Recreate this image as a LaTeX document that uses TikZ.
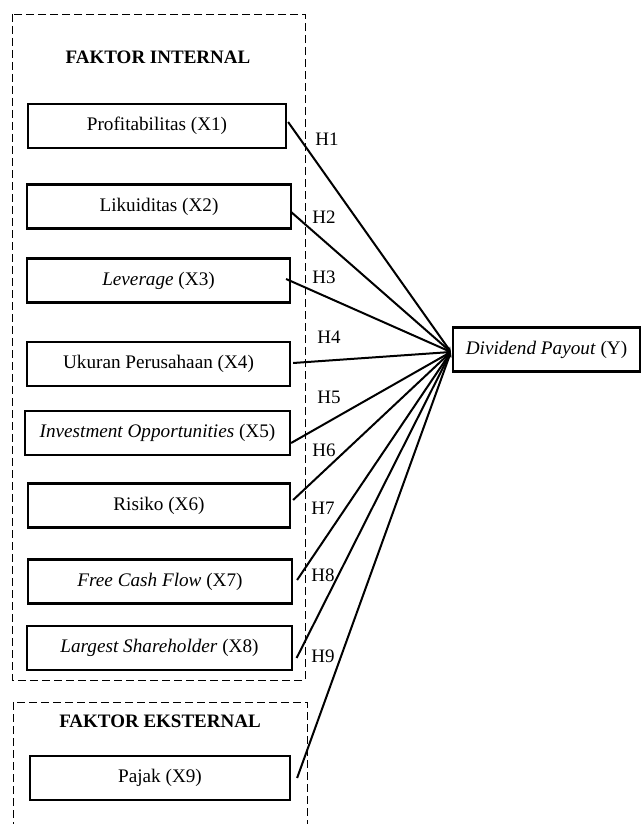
\documentclass[tikz,border=0pt]{standalone}
\usepackage{fontspec}
\setmainfont{Liberation Serif}
\usetikzlibrary{calc,arrows.meta}
\tikzset{
  varbox/.style={draw, line width=2.2pt, minimum height=44pt, inner sep=0pt,
                 font=\fontsize{19.2}{22}\selectfont},
  groupbox/.style={draw, line width=0.9pt, dash pattern=on 8pt off 4pt},
  grouptitle/.style={inner sep=0pt, font=\fontsize{19}{22}\selectfont\bfseries},
  link/.style={line width=2pt, -{Stealth[length=5pt,width=5pt]}},
  hyp/.style={inner sep=0pt, font=\fontsize{19}{22}\selectfont},
}
\begin{document}
\begin{tikzpicture}[x=1pt,y=-1pt]
\useasboundingbox (0,0) rectangle (643,824);

% group frames
\draw[groupbox] (12,14) rectangle (305,680);
\draw[groupbox] (13,830) |- (307,702) -- (307,830);
\node[grouptitle] (tin) at (158,57) {FAKTOR INTERNAL};
\node[grouptitle] (tex) at (160,721) {FAKTOR EKSTERNAL};

% independent variables
\node[varbox, minimum width=258pt] (x1) at (157,126)   {Profitabilitas (X1)};
\node[varbox, minimum width=264pt] (x2) at (159,206.5) {Likuiditas (X2)};
\node[varbox, minimum width=263pt] (x3) at (158.5,280.5) {\textit{Leverage} (X3)};
\node[varbox, minimum width=263pt] (x4) at (158.5,364) {Ukuran Perusahaan (X4)};
\node[varbox, minimum width=265pt] (x5) at (157.5,433) {\textit{Investment Opportunities} (X5)};
\node[varbox, minimum width=262pt] (x6) at (159,505.5) {Risiko (X6)};
\node[varbox, minimum width=264pt] (x7) at (160,581.5) {\textit{Free Cash Flow} (X7)};
\node[varbox, minimum width=265pt] (x8) at (159.5,648) {\textit{Largest Shareholder} (X8)};
\node[varbox, minimum width=260pt] (x9) at (160,778)   {Pajak (X9)};

% dependent variable
\node[varbox, minimum width=187pt] (y) at (546.5,349.5) {\textit{Dividend Payout} (Y)};
\coordinate (hub) at ($(y.west)+(-1,2.5)$);

% hypothesised effects
\draw[link] ($(x1.east)+(1,-4)$)  -- (hub);
\draw[link] ($(x2.east)+(-1,5.5)$) -- (hub);
\draw[link] ($(x3.east)+(-5,-1.5)$) -- (hub);
\draw[link] ($(x4.east)+(2,-1)$)  -- (hub);
\draw[link] ($(x5.east)+(0,10)$)  -- (hub);
\draw[link] ($(x6.east)+(2,-5.5)$) -- (hub);
\draw[link] ($(x7.east)+(4,-1.5)$) -- (hub);
\draw[link] ($(x8.east)+(3.5,10)$) -- (hub);
\draw[link] ($(x9.east)+(6,0)$)   -- (hub);

% hypothesis labels
\node[hyp] (h1) at (327,139) {H1};
\node[hyp] (h2) at (324,217) {H2};
\node[hyp] (h3) at (324,277) {H3};
\node[hyp] (h4) at (329,337) {H4};
\node[hyp] (h5) at (329,397) {H5};
\node[hyp] (h6) at (324,450) {H6};
\node[hyp] (h7) at (323,508) {H7};
\node[hyp] (h8) at (323,575) {H8};
\node[hyp] (h9) at (323,656) {H9};
\end{tikzpicture}
\end{document}
